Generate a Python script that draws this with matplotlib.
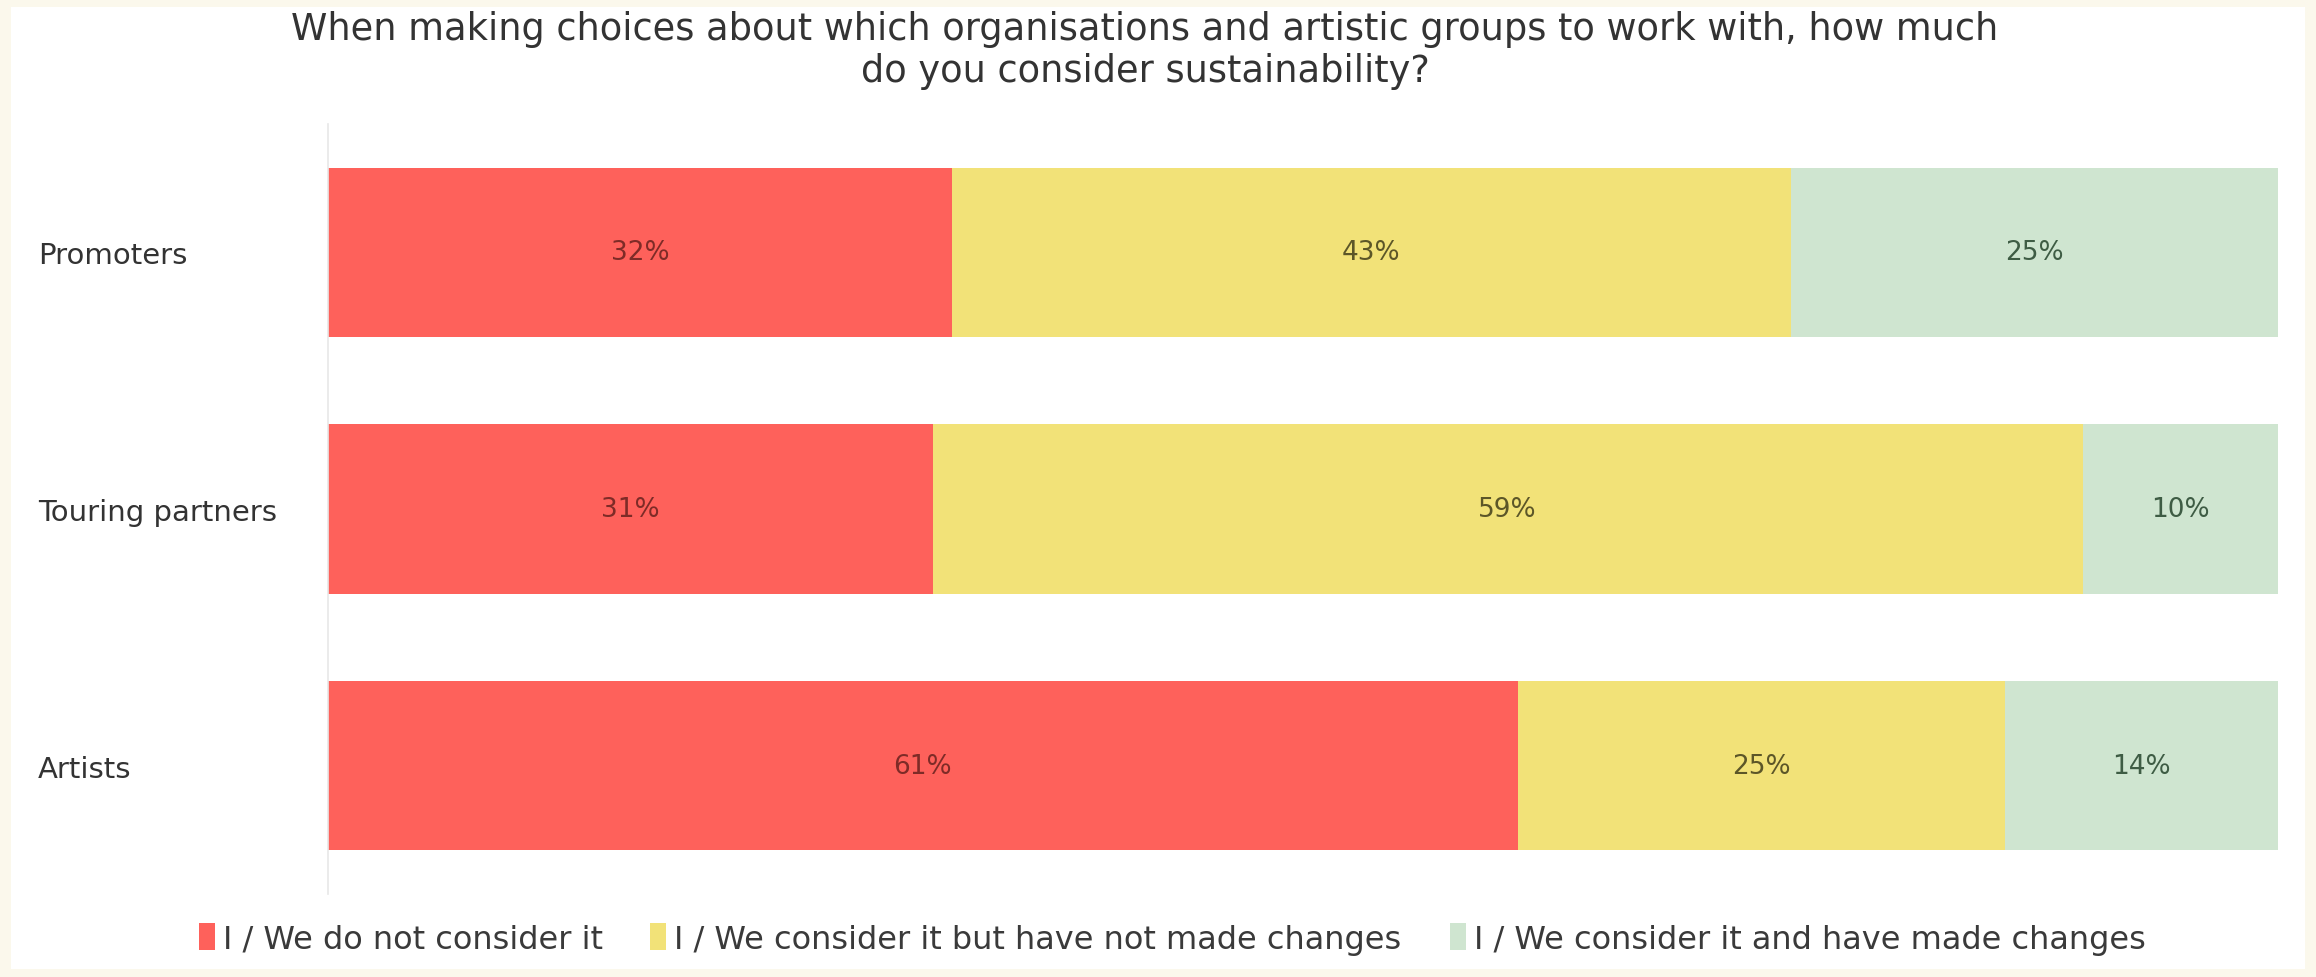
import matplotlib.pyplot as plt
from matplotlib.patches import Rectangle

groups = ["Promoters", "Touring partners", "Artists"]
not_considered = [32, 31, 61]
considered_no_change = [43, 59, 25]
considered_changed = [25, 10, 14]
series_names = [
    "I / We do not consider it",
    "I / We consider it but have not made changes",
    "I / We consider it and have made changes",
]

colors = ["#FE615B", "#F2E278", "#CFE5D0"]
text_colors = ["#7E2B27", "#5C5628", "#3E5C44"]

W, H = 2316, 978
fig = plt.figure(figsize=(W / 100, H / 100), dpi=100)
fig.patch.set_facecolor("#FBF8EC")
# white card on the cream page
fig.patches.append(Rectangle((11 / W, 8 / H), (2305 - 11) / W, (970 - 8) / H,
                             transform=fig.transFigure, facecolor="white",
                             edgecolor="none", zorder=-5))

ax = fig.add_axes([328 / W, 1 - 895 / H, (2278 - 328) / W, (895 - 125) / H])
ax.set_facecolor("none")

ypos = list(range(len(groups)))
left = [0] * len(groups)
for vals, col, tcol, name in zip([not_considered, considered_no_change, considered_changed],
                                 colors, text_colors, series_names):
    bars = ax.barh(ypos, vals, left=left, height=0.66, color=col, label=name)
    for b, v in zip(bars, vals):
        ax.text(b.get_x() + b.get_width() / 2, b.get_y() + b.get_height() / 2,
                f"{v}%", ha="center", va="center", fontsize=19, color=tcol)
    left = [l + v for l, v in zip(left, vals)]

ax.set_xlim(0, 100)
ax.set_ylim(2.5, -0.5)
ax.set_xticks([])
ax.set_yticks(ypos)
ax.set_yticklabels(groups, ha="left", fontsize=21, color="#333333")
ax.tick_params(axis="y", length=0, pad=(328 - 38) * 0.72)
for s in ["top", "right", "bottom"]:
    ax.spines[s].set_visible(False)
ax.spines["left"].set_color("#E8E8E8")
ax.spines["left"].set_linewidth(1.2)

fig.text(1145 / W, 1 - 29 / H,
         "When making choices about which organisations and artistic groups to work with, how much",
         ha="center", va="center", fontsize=26.5, color="#333333")
fig.text(1145 / W, 1 - 72 / H, "do you consider sustainability?",
         ha="center", va="center", fontsize=26.5, color="#333333")

fig.legend(loc="center", bbox_to_anchor=(1172 / W, 1 - 940 / H), ncol=3,
           frameon=False, fontsize=23, handlelength=0.5, handleheight=0.9,
           handletextpad=0.25, columnspacing=1.5, labelcolor="#3A3A3A")

fig.savefig("out.png", dpi=100, facecolor=fig.get_facecolor())
